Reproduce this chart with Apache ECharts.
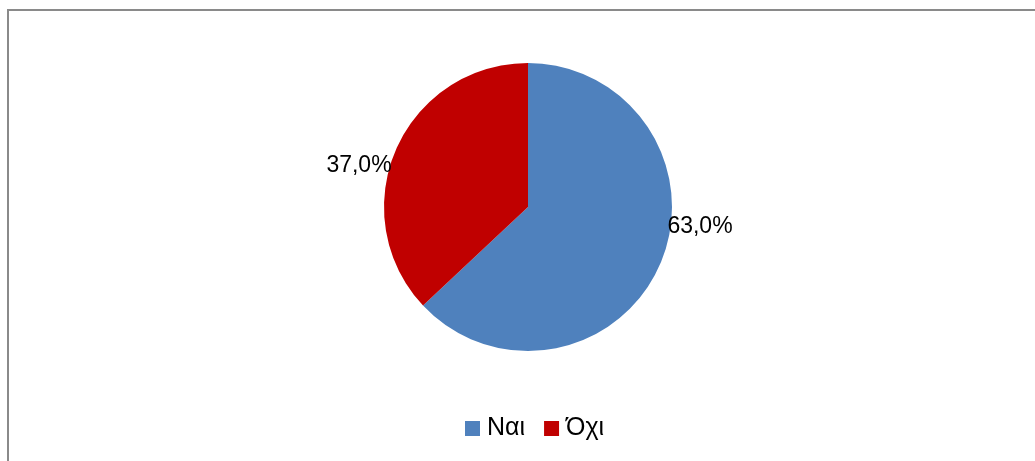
<!DOCTYPE html>
<html>
<head>
<meta charset="utf-8">
<script src="https://cdn.jsdelivr.net/npm/echarts@6/dist/echarts.min.js"></script>
<style>
html,body{margin:0;padding:0;background:#fff;}
#frame{position:absolute;left:7px;top:9px;width:1028px;height:452px;border-left:2px solid #8a8a8a;border-top:2px solid #8a8a8a;box-sizing:border-box;}
#chart{position:absolute;left:0;top:0;width:1035px;height:461px;}
</style>
</head>
<body>
<div id="frame"></div>
<div id="chart"></div>
<script>
const categories = ['Ναι', 'Όχι'];
const values = [63.0, 37.0];
const colors = ['#4F81BD', '#C00000'];
const labelPositions = [[700, 227], [359, 166]];

const chart = echarts.init(document.getElementById('chart'));
chart.setOption({
  animation: false,
  textStyle: { fontFamily: 'Liberation Sans' },
  legend: {
    data: categories,
    top: 416,
    left: 465,
    padding: 0,
    icon: 'rect',
    itemWidth: 15,
    itemHeight: 15,
    itemGap: 19,
    textStyle: { fontSize: 25, color: '#000', fontFamily: 'Liberation Sans', padding: [0, 0, 0, 2] }
  },
  series: [{
    type: 'pie',
    center: [528, 207],
    radius: 144,
    startAngle: 90,
    clockwise: true,
    data: categories.map((c, i) => ({ name: c, value: values[i], itemStyle: { color: colors[i] } })),
    label: {
      show: true,
      position: 'outside',
      formatter: p => p.value.toFixed(1).replace('.', ',') + '%',
      fontSize: 23,
      color: '#000',
      fontFamily: 'Liberation Sans'
    },
    labelLine: { show: false },
    labelLayout: function (params) {
      const pos = labelPositions[params.dataIndex];
      return { x: pos[0], y: pos[1], align: 'center', verticalAlign: 'middle' };
    },
    emphasis: { disabled: true }
  }]
});
</script>
</body>
</html>
